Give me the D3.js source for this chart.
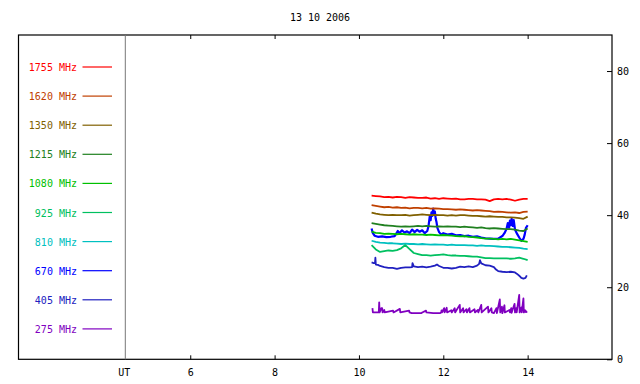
<!DOCTYPE html>
<html>
<head>
<meta charset="utf-8">
<script src="https://cdn.jsdelivr.net/npm/d3@7"></script>
<style>
html,body{margin:0;padding:0;background:#fff;}
svg{display:block;}
text{font-family:"DejaVu Sans Mono",monospace;font-size:10px;}
</style>
</head>
<body>
<svg id="chart" width="640" height="384"></svg>
<script>
const title = "13 10 2006";
const freqLabels = ["1755 MHz","1620 MHz","1350 MHz","1215 MHz","1080 MHz","925 MHz","810 MHz","670 MHz","405 MHz","275 MHz"];
const colors = ["#ff0000","#c04000","#806000","#208020","#00c000","#00c060","#00c0c0","#0000ff","#2020c0","#8000c0"];
const xTicks = [6,8,10,12,14];
const yTicks = [0,20,40,60,80];

const hours = [10.3,10.4,10.5,10.6,10.7,10.8,10.9,11.0,11.1,11.2,11.3,11.4,11.5,11.6,11.7,11.8,11.9,12.0,12.1,12.2,12.3,12.4,12.5,12.6,12.7,12.8,12.9,13.0,13.1,13.2,13.3,13.4,13.5,13.6,13.7,13.8,13.9,14.0];
const s1755 = [45.4,45.3,45.2,45.0,45.1,44.9,45.1,45.0,44.8,45.0,44.9,44.8,44.8,44.9,44.6,44.7,44.5,44.7,44.6,44.5,44.6,44.4,44.4,44.5,44.5,44.4,44.4,44.3,43.9,44.4,44.5,44.4,44.5,44.3,44.0,44.3,44.5,44.5];
const s1620 = [42.8,42.6,42.4,42.2,42.3,42.1,42.2,42.0,42.1,41.9,42.0,42.0,41.9,42.0,41.8,41.9,41.8,41.7,41.7,41.6,41.5,41.6,41.5,41.4,41.3,41.4,41.3,41.2,41.1,40.9,41.0,40.9,40.8,40.7,40.8,40.6,40.9,41.0];
const s1350 = [40.7,40.4,40.2,40.1,40.0,40.1,40.0,40.0,40.1,39.9,40.0,40.1,40.2,40.1,40.0,40.1,40.0,40.0,39.9,40.0,39.9,40.0,40.0,39.9,39.8,39.8,39.7,39.6,39.7,39.6,39.5,39.5,39.4,39.4,39.3,39.2,39.0,39.6];
const s1215 = [37.8,37.6,37.4,37.2,37.1,37.0,36.9,36.8,36.9,36.8,36.9,37.0,36.9,37.0,36.9,36.8,36.9,36.8,36.9,36.8,36.8,36.7,36.8,36.7,36.6,36.5,36.6,36.4,36.3,36.4,36.3,36.2,36.1,36.1,36.0,35.7,35.6,36.3];
const s1080 = [35.4,35.1,35.0,34.8,34.9,34.8,34.7,34.8,34.7,34.6,34.7,34.6,34.6,34.5,34.6,34.5,34.4,34.5,34.4,34.3,34.2,34.1,34.2,34.0,33.9,33.8,33.6,33.5,33.5,33.4,33.3,33.4,33.3,33.4,33.2,33.0,32.8,32.6];
const s925 = [31.7,30.5,29.8,30.0,30.2,30.1,30.3,30.8,31.7,30.6,29.5,29.2,28.9,28.9,28.8,28.9,29.0,29.1,28.9,28.8,28.8,28.7,28.7,28.6,28.5,28.5,28.3,28.1,28.1,28.0,28.0,28.0,28.0,27.9,28.0,28.2,27.9,27.5];
const s810 = [32.9,32.6,32.4,32.3,32.2,32.2,32.1,32.0,32.1,32.0,32.0,31.9,32.0,31.9,31.8,31.9,31.8,31.8,31.7,31.8,31.7,31.7,31.7,31.6,31.6,31.5,31.6,31.5,31.5,31.4,31.3,31.2,31.2,31.1,31.0,30.9,30.7,30.6];

const t670 = [10.30,10.33,10.37,10.45,10.55,10.65,10.75,10.85,10.92,10.96,11.02,11.08,11.14,11.2,11.26,11.32,11.38,11.44,11.5,11.56,11.62,11.65,11.68,11.70,11.72,11.74,11.76,11.78,11.80,11.82,11.84,11.86,11.9,11.95,12.0,12.1,12.2,12.3,12.4,12.5,12.6,12.7,12.8,12.9,13.0,13.1,13.2,13.3,13.4,13.45,13.5,13.53,13.56,13.58,13.6,13.62,13.65,13.67,13.7,13.75,13.8,13.85,13.9,13.93,13.96,14.0];
const s670 = [36.3,35.0,34.3,34.0,34.1,33.9,34.0,34.2,35.6,35.0,35.8,35.2,35.5,35.0,36.0,35.3,35.9,35.4,35.8,35.0,35.6,37.0,39.8,38.6,40.8,39.8,41.8,40.2,41.0,39.0,38.0,36.5,35.3,34.6,35.0,34.6,34.8,34.4,34.5,34.2,34.3,34.0,34.1,33.8,33.6,33.5,33.4,33.5,34.2,35.0,36.2,37.8,36.5,38.5,37.2,39.0,37.0,38.6,36.0,34.8,33.8,32.9,33.4,34.6,36.5,37.2];

const t405 = [10.30,10.35,10.38,10.39,10.40,10.45,10.5,10.6,10.7,10.8,10.9,11.0,11.1,11.2,11.26,11.27,11.3,11.4,11.5,11.6,11.7,11.8,11.85,11.9,12.0,12.1,12.2,12.3,12.4,12.5,12.6,12.7,12.8,12.85,12.87,12.9,13.0,13.1,13.2,13.25,13.3,13.4,13.5,13.6,13.7,13.75,13.8,13.85,13.9,13.95,13.98];
const s405 = [26.9,26.7,26.7,28.2,26.3,26.2,25.9,25.6,25.4,25.4,25.1,25.4,25.5,25.5,25.6,26.7,25.8,25.6,25.7,25.5,25.7,26.0,26.3,25.9,25.4,25.4,25.2,25.4,25.7,25.6,25.8,25.6,26.0,26.5,27.5,26.6,26.1,26.0,25.6,24.9,24.5,24.3,24.2,24.3,24.1,23.7,23.2,22.6,22.4,22.6,23.3];

const t275 = [10.32,10.33,10.47,10.48,10.49,10.53,10.55,10.56,10.60,10.61,10.81,10.82,10.97,10.98,11.19,11.20,11.25,11.48,11.50,11.59,11.60,11.76,11.92,11.95,11.96,11.97,12.02,12.03,12.08,12.09,12.19,12.20,12.27,12.28,12.39,12.40,12.47,12.48,12.55,12.56,12.62,12.63,12.74,12.75,12.82,12.83,12.90,12.91,13.06,13.07,13.14,13.15,13.20,13.26,13.27,13.34,13.35,13.39,13.40,13.45,13.46,13.57,13.58,13.61,13.62,13.69,13.70,13.73,13.74,13.80,13.81,13.85,13.86,13.90,13.91,13.94,13.96,13.99];
const s275 = [14.2,13.0,13.0,15.8,13.0,14.2,14.2,13.0,13.7,13.0,13.5,13.0,14.0,13.0,13.5,13.0,12.8,12.8,13.0,13.5,13.0,12.8,12.8,13.0,13.6,13.0,14.2,13.0,14.3,13.0,13.6,13.0,14.2,13.0,15.1,13.0,14.2,13.0,13.9,13.0,14.2,13.0,13.9,13.0,13.7,13.0,15.1,13.0,14.6,13.0,14.2,13.0,12.8,14.2,12.8,16.6,13.0,14.6,12.8,15.0,13.0,13.7,13.0,14.2,12.9,15.4,13.0,14.2,13.0,17.9,13.0,14.4,13.0,16.9,13.0,13.6,13.1,13.3];

const seriesTimes = [hours,hours,hours,hours,hours,hours,hours,t670,t405,t275];
const seriesValues = [s1755,s1620,s1350,s1215,s1080,s925,s810,s670,s405,s275];

(function draw(){
const svg = d3.select("#chart");
const L = 18.5, R = 612, T = 35, B = 359.3, utX = 125.3;

const x = d3.scaleLinear().domain([4.46,16]).range([utX,R]);
const y = d3.scaleLinear().domain([0,90]).range([B,T]);

// title
svg.append("text").attr("x",320).attr("y",21).attr("text-anchor","middle").attr("fill","#000").text(title);

// frame
svg.append("rect").attr("x",L).attr("y",T).attr("width",R-L).attr("height",B-T)
  .attr("fill","none").attr("stroke","#000").attr("stroke-width",1.2);
svg.append("line").attr("x1",utX).attr("x2",utX).attr("y1",T).attr("y2",B).attr("stroke","#777").attr("stroke-width",1);

// bottom axis
const gx = svg.append("g").attr("transform",`translate(0,${B})`)
  .call(d3.axisBottom(x).tickValues(xTicks).tickSize(-4).tickPadding(10).tickFormat(d3.format("d")));
gx.select(".domain").remove();
gx.selectAll("text").attr("font-family",null).attr("font-size",null);
svg.append("text").attr("x",utX-1).attr("y",376).attr("text-anchor","middle").text("UT");

// top ticks
const gt = svg.append("g").attr("transform",`translate(0,${T})`)
  .call(d3.axisTop(x).tickValues(xTicks).tickSize(-4).tickFormat(""));
gt.select(".domain").remove();

// right axis
const gy = svg.append("g").attr("transform",`translate(${R},0)`)
  .call(d3.axisRight(y).tickValues(yTicks).tickSize(-5).tickPadding(5).tickFormat(d3.format("d")));
gy.select(".domain").remove();
gy.selectAll("text").attr("font-family",null).attr("font-size",null);

// legend
const legY0 = 67, legStep = 29.1;
freqLabels.forEach((lab,i)=>{
  const ly = legY0 + i*legStep;
  svg.append("text").attr("x",77).attr("y",ly+4).attr("text-anchor","end").attr("fill",colors[i]).text(lab);
  svg.append("line").attr("x1",82.5).attr("x2",112).attr("y1",ly).attr("y2",ly).attr("stroke",colors[i]).attr("stroke-width",1.2);
});

// data lines (lowest frequency drawn first)
const line = d3.line().x(d=>x(d[0])).y(d=>y(d[1]));
for (let i = seriesValues.length-1; i >= 0; i--) {
  const ts = seriesTimes[i], vs = seriesValues[i];
  const n = Math.min(ts.length, vs.length);
  const pts = d3.range(n).map(k=>[ts[k], vs[k]]);
  svg.append("path").datum(pts).attr("d",line).attr("fill","none")
    .attr("stroke",colors[i]).attr("stroke-width",i===7?2.2:1.8).attr("stroke-linejoin","round");
}
})();
</script>
</body>
</html>
